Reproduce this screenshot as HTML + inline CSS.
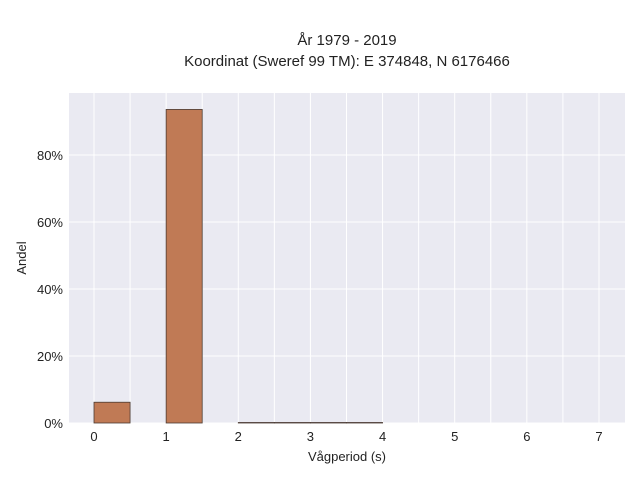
<!DOCTYPE html>
<html><head><meta charset="utf-8"><style>
body{margin:0;background:#fff;}
svg text{font-family:"Liberation Sans",sans-serif;fill:#222;}
</style></head><body>
<svg id="chart" width="640" height="480">
<text x="347" y="45" font-size="15" text-anchor="middle">År 1979 - 2019</text>
<text x="347" y="66" font-size="15" text-anchor="middle">Koordinat (Sweref 99 TM): E 374848, N 6176466</text>
<rect x="69" y="93" width="556" height="330" fill="#eaeaf2"/>
<g id="grid"></g><g id="bars"></g><g id="ticks"></g>
<text x="347" y="461" font-size="13" text-anchor="middle">Vågperiod (s)</text>
<text transform="translate(26,258) rotate(-90)" font-size="13" text-anchor="middle">Andel</text>
</svg>
<script>
const binStarts=[0,0.5,1,1.5,2,2.5,3,3.5];
const binValues=[6.2,0,93.6,0,0.08,0.08,0.08,0.08];
const xTicks=[0,1,2,3,4,5,6,7];
const yTicks=[0,20,40,60,80];
const binWidth=0.5;
const NS="http://www.w3.org/2000/svg";
const X=v=>94+v*72.14, Y=v=>423-v*3.35;
const g=document.getElementById('grid'),b=document.getElementById('bars'),t=document.getElementById('ticks');
function mk(tag,a,p){const e=document.createElementNS(NS,tag);for(const k in a)e.setAttribute(k,a[k]);p.appendChild(e);return e;}
for(let v=0;v<=7.5;v+=0.5){const l=mk('line',{x1:X(v),x2:X(v),y1:93,y2:423,stroke:'#fff','stroke-width':1},g);

}
yTicks.forEach(v=>{const l=mk('line',{x1:69,x2:625,y1:Y(v),y2:Y(v),stroke:'#fff','stroke-width':1},g);


const s=mk('text',{x:63,y:Y(v)+5,'font-size':13,'text-anchor':'end'},t);s.textContent=v+'%';

});
xTicks.forEach(v=>{const s=mk('text',{x:X(v),y:441,'font-size':13,'text-anchor':'middle'},t);s.textContent=v;

});
binStarts.forEach((s,i)=>{if(binValues[i]<=0)return;const h=Math.max(Y(0)-Y(binValues[i]),0.5);
const r=mk('rect',{x:X(s),y:Y(0)-h,width:X(s+binWidth)-X(s),height:h,fill:'#c07a55',stroke:'#4a3a32','stroke-width':0.8},b);

});
</script>
</body></html>
